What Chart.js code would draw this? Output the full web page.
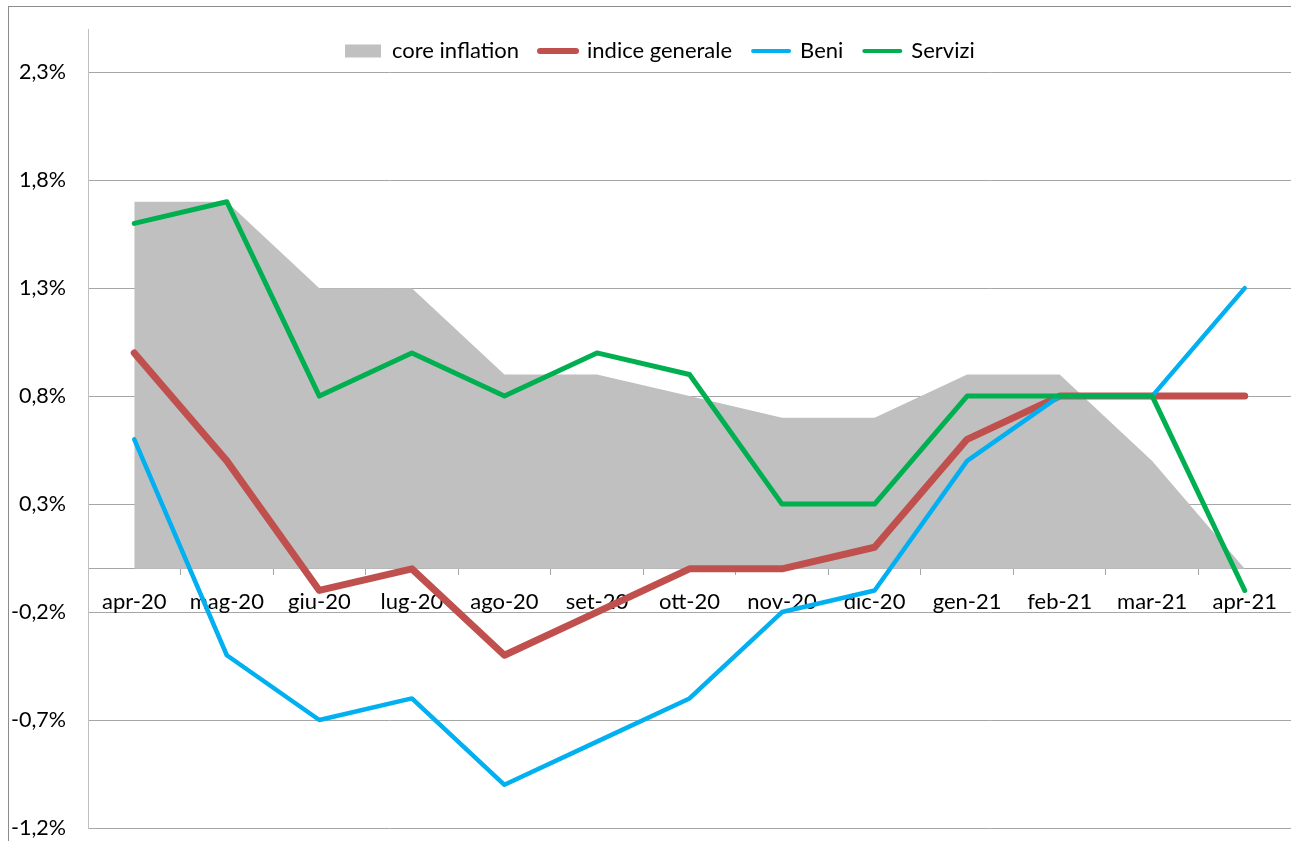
<!DOCTYPE html>
<html><head><meta charset="utf-8">
<script src="https://cdn.jsdelivr.net/npm/chart.js@4/dist/chart.umd.min.js"></script>
<style>
html,body{margin:0;padding:0;background:#fff;overflow:hidden}
#wrap{position:relative;width:1291px;height:841px;overflow:hidden}
#frame{position:absolute;left:8px;top:6px;width:1400px;height:900px;border-left:1px solid #8c8c8c;border-top:1px solid #8c8c8c}
canvas{position:absolute;left:0;top:0}
</style></head><body>
<div id="wrap"><div id="frame"></div><canvas id="c" width="1291" height="841"></canvas></div>
<script>
const categories = ['apr-20','mag-20','giu-20','lug-20','ago-20','set-20','ott-20','nov-20','dic-20','gen-21','feb-21','mar-21','apr-21'];
const coreInflation = [1.7, 1.7, 1.3, 1.3, 0.9, 0.9, 0.8, 0.7, 0.7, 0.9, 0.9, 0.5, 0.0];
const indiceGenerale = [1.0, 0.5, -0.1, 0.0, -0.4, -0.2, 0.0, 0.0, 0.1, 0.6, 0.8, 0.8, 0.8];
const beni = [0.6, -0.4, -0.7, -0.6, -1.0, -0.8, -0.6, -0.2, -0.1, 0.5, 0.8, 0.8, 1.3];
const servizi = [1.6, 1.7, 0.8, 1.0, 0.8, 1.0, 0.9, 0.3, 0.3, 0.8, 0.8, 0.8, -0.1];
const seriesNames = ['core inflation', 'indice generale', 'Beni', 'Servizi'];
const yTicks = [-1.2, -0.7, -0.2, 0.3, 0.8, 1.3, 1.8, 2.3];

const FONT = 'Lato';
const legendLineWidths = [0, 6, 4, 4];

const legendOverlay = {
  id: 'legendOverlay',
  beforeLayout(chart) {
    const lg = chart.legend;
    if (lg && !lg._patched) {
      const f = lg.fit.bind(lg);
      lg.fit = function () { f(); this._realH = this.height; this.height = 0; };
      lg._patched = true;
    }
  },
  afterLayout(chart) {
    const lg = chart.legend;
    if (!lg) return;
    lg.left = 324; lg.right = 1291; lg.width = lg.right - lg.left;
    lg.top = 19; lg.height = lg._realH || 40; lg.bottom = lg.top + lg.height;
  }
};

const lineStyle = (color, w, order) => ({
  borderColor: color, backgroundColor: color, borderWidth: w, order: order,
  pointRadius: 0, pointHoverRadius: 0, tension: 0, fill: false,
  borderCapStyle: 'round', borderJoinStyle: 'round'
});

new Chart(document.getElementById('c'), {
  type: 'line',
  data: {
    labels: categories,
    datasets: [
      { label: seriesNames[0], data: coreInflation, backgroundColor: '#C0C0C0', borderColor: '#C0C0C0',
        borderWidth: 0, fill: 'origin', pointRadius: 0, pointHoverRadius: 0, tension: 0, order: 4 },
      Object.assign({ label: seriesNames[1], data: indiceGenerale }, lineStyle('#C0504D', 7, 3)),
      Object.assign({ label: seriesNames[2], data: beni }, lineStyle('#00B0F0', 4.5, 2)),
      Object.assign({ label: seriesNames[3], data: servizi }, lineStyle('#00B050', 5, 1))
    ]
  },
  plugins: [legendOverlay],
  options: {
    responsive: false, animation: false, devicePixelRatio: 1,
    layout: { padding: { left: 0, right: 0, top: 29, bottom: 13 } },
    plugins: {
      tooltip: { enabled: false },
      legend: {
        display: true, position: 'top', align: 'start',
        labels: {
          usePointStyle: true, pointStyleWidth: 36, boxHeight: 13, padding: 21,
          color: '#000', font: { family: FONT, size: 22 },
          generateLabels(chart) {
            return chart.data.datasets.map((ds, i) => ({
              text: ds.label,
              fillStyle: ds.backgroundColor,
              strokeStyle: i === 0 ? ds.backgroundColor : ds.borderColor,
              lineWidth: legendLineWidths[i],
              pointStyle: i === 0 ? 'rect' : 'line',
              lineCap: 'round',
              hidden: false, datasetIndex: i, fontColor: '#000'
            }));
          }
        }
      }
    },
    scales: {
      x: {
        position: { y: 0 }, offset: true,
        grid: { drawOnChartArea: false, tickLength: 6, color: '#A6A6A6', offset: true },
        border: { color: '#A6A6A6' },
        ticks: { color: '#000', font: { family: FONT, size: 22 }, padding: 14, maxRotation: 0, autoSkip: false }
      },
      y: {
        min: -1.2, max: 2.5,
        afterBuildTicks: s => { s.ticks = yTicks.map(v => ({ value: v })); },
        afterFit: s => { s.width = 88; s.paddingTop = 0; s.paddingBottom = 0; },
        ticks: { color: '#000', font: { family: FONT, size: 21.5 }, padding: 22,
          callback: v => Number(v).toFixed(1).replace('.', ',') + '%' },
        grid: { color: '#A6A6A6', drawTicks: false, lineWidth: 1 },
        border: { color: '#BFBFBF' }
      }
    }
  }
});
</script>
</body></html>
